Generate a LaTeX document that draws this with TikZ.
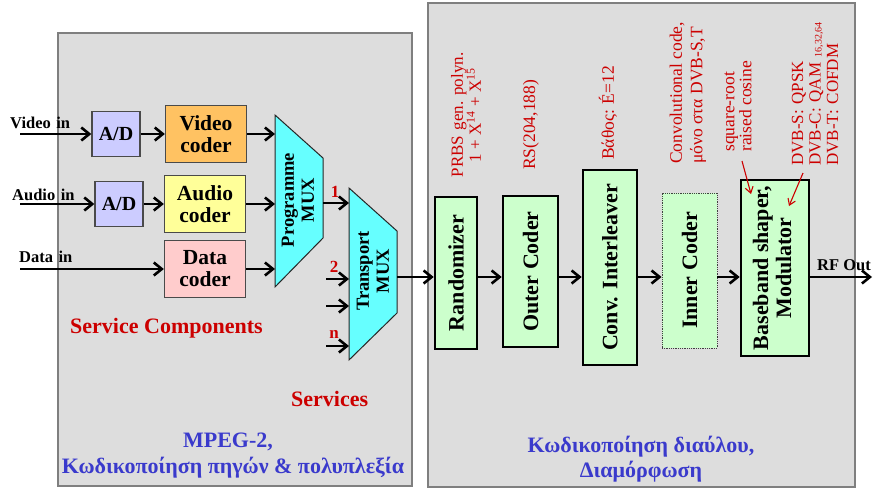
\documentclass[tikz,border=0pt]{standalone}
\usepackage{fontspec}
\usepackage{graphicx}
\setmainfont{Liberation Serif}
\usetikzlibrary{arrows.meta,calc}

\definecolor{panelgray}{HTML}{DDDDDD}
\definecolor{paneledge}{HTML}{7F7F7F}
\definecolor{adblue}{HTML}{CCCCFF}
\definecolor{vidorange}{HTML}{FFC262}
\definecolor{audyellow}{HTML}{FFFF99}
\definecolor{datpink}{HTML}{FFCCCC}
\definecolor{muxcyan}{HTML}{66FFFF}
\definecolor{chaingreen}{HTML}{CCFFCC}
\definecolor{labelred}{HTML}{CC0000}
\definecolor{labelblue}{HTML}{3A3ACC}
\definecolor{boxedge}{HTML}{4A4A4A}

\newcommand{\rot}[1]{\rotatebox{90}{#1}}

\begin{document}
\begin{tikzpicture}[x=1pt,y=-1pt,
  panel/.style={draw=paneledge, fill=panelgray, line width=1.5pt},
  box/.style={draw=boxedge, line width=1.3pt, inner sep=0pt, align=center,
    font=\fontsize{21.5}{22}\selectfont\bfseries},
  adbox/.style={box, fill=adblue, minimum width=48pt, minimum height=45pt,
    font=\fontsize{20}{21}\selectfont\bfseries},
  coder/.style={box, minimum width=81pt, minimum height=57pt},
  chain/.style={draw=black, line width=2.6pt, fill=chaingreen, inner sep=0pt,
    font=\fontsize{22}{23}\selectfont\bfseries},
  muxshape/.style={draw=black!85, line width=1pt, fill=muxcyan},
  muxtext/.style={inner sep=0pt, align=center, rotate=90,
    font=\fontsize{18.5}{20}\selectfont\bfseries},
  arr/.style={line width=2.6pt, -{Straight Barb[length=8pt,width=13pt]}},
  redarr/.style={draw=labelred, line width=1.1pt, -{Straight Barb[length=6pt,width=8pt]}},
  inlbl/.style={inner sep=0pt, anchor=base west, font=\fontsize{16.5}{18}\selectfont\bfseries},
  redlbl/.style={text=labelred, inner sep=0pt, rotate=90, font=\fontsize{17.5}{18}\selectfont},
  redbold/.style={text=labelred, inner sep=0pt, font=\fontsize{17}{18}\selectfont\bfseries},
  bluelbl/.style={text=labelblue, inner sep=0pt, anchor=base, font=\fontsize{22}{24}\selectfont\bfseries}
]
\useasboundingbox (0,0) rectangle (873,488);
\fill[white] (0,0) rectangle (873,488);

% the two panels
\draw[panel] (58,33) rectangle (412,486);
\draw[panel] (428,3) rectangle (855,487);

% ---------- source coding and multiplexing ----------
\node[adbox] (adv) at (116,134) {A/D};
\node[adbox] (ada) at (119,204) {A/D};
\node[coder, fill=vidorange] (vcod) at (206,134) {Video\\coder};
\node[coder, fill=audyellow] (acod) at (205,204) {Audio\\coder};
\node[coder, fill=datpink] (dcod) at (205,269) {Data\\coder};

% input signals
\coordinate (vin) at (20,134);
\coordinate (ain) at (20,204);
\coordinate (din) at (20,269);
\node[inlbl] (vinl) at (10,128) {Video\,\,in};
\node[inlbl] (ainl) at (12,200) {Audio\,\,in};
\node[inlbl] (dinl) at (19,262) {Data\,\,in};
\draw[arr] (vin) -- (adv.west);
\draw[arr] (ain) -- (ada.west);
\draw[arr] (din) -- (dcod.west);
\draw[arr] (adv.east) -- (vcod.west);
\draw[arr] (ada.east) -- (acod.west);

% programme multiplexer
\draw[muxshape] (275,115) -- (323,158) -- (323,238) -- (275,287) -- cycle;
\node[muxtext] (pmux) at (298,200) {Programme\\MUX};
\coordinate (pmL) at (275,0);
\coordinate (pmout) at (323,203);
\draw[arr] (vcod.east) -- (vcod.east -| pmL);
\draw[arr] (acod.east) -- (acod.east -| pmL);
\draw[arr] (dcod.east) -- (dcod.east -| pmL);

% transport multiplexer
\draw[muxshape] (349,188) -- (397,231) -- (397,313) -- (349,360) -- cycle;
\node[muxtext] (tmux) at (373,271) {Transport\\MUX};
\coordinate (tmin1) at (349,203);
\coordinate (tmsrc2) at (326,279);
\coordinate (tmin2) at (349,279);
\coordinate (tmsrc3) at (326,306);
\coordinate (tmin3) at (349,306);
\coordinate (tmsrcn) at (326,346);
\coordinate (tminn) at (349,346);
\coordinate (tmout) at (397,277);
\draw[arr] (pmout) -- (tmin1);
\draw[arr] (tmsrc2) -- (tmin2);
\draw[arr] (tmsrc3) -- (tmin3);
\draw[arr] (tmsrcn) -- (tminn);
\node[redbold, anchor=base] (n1) at (335,197) {1};
\node[redbold, anchor=base] (n2) at (334,272) {2};
\node[redbold, anchor=base] (nn) at (334,338) {n};

\node[redbold, anchor=base west, font=\fontsize{22}{24}\selectfont\bfseries] (svcc) at (70,333) {Service Components};
\node[redbold, anchor=base west, font=\fontsize{22}{24}\selectfont\bfseries] (svcs) at (291,406) {Services};
\node[bluelbl] (mpeg) at (228,447) {MPEG-2,};
\node[bluelbl] (srccod) at (233,473) {Κωδικοποίηση πηγών \& πολυπλεξία};

% ---------- channel coding and modulation ----------
\coordinate (row) at (0,277);
\node[chain, minimum width=42pt, minimum height=152pt] (rand) at (456,273) {\rot{Randomizer}};
\node[chain, minimum width=55pt, minimum height=151pt] (outer) at (530.5,271.5) {\rot{Outer Coder}};
\node[chain, minimum width=54pt, minimum height=195pt] (conv) at (610,267.5) {\rot{Conv. Interleaver}};
\node[chain, draw=black!75, line width=0.8pt, densely dotted, minimum width=55pt, minimum height=155pt] (inner) at (689.5,270.5) {\rot{Inner Coder}};
\node[chain, minimum width=68pt, minimum height=176pt] (bb) at (775,268) {\rot{\begin{tabular}{@{}c@{}}Baseband shaper,\\Modulator\end{tabular}}};

\coordinate (rfend) at (872,277);
\draw[arr] (tmout) -- (rand.west |- row);
\draw[arr] (rand.east |- row) -- (outer.west |- row);
\draw[arr] (outer.east |- row) -- (conv.west |- row);
\draw[arr] (conv.east |- row) -- (inner.west |- row);
\draw[arr] (inner.east |- row) -- (bb.west |- row);
\draw[arr] (bb.east |- row) -- (rfend);
\node[inlbl, font=\fontsize{16.5}{18}\selectfont\bfseries] (rfl) at (817,270) {RF Out};

% annotations above the chain
\node[redlbl, align=center, font=\fontsize{17}{18}\selectfont] (prbs) at (466,115)
  {PRBS\,\,gen.\,\,polyn.\\1 + X\textsuperscript{14} + X\textsuperscript{15}};
\node[redlbl, anchor=west] (rsl) at (531,170) {RS(204,188)};
\node[redlbl, anchor=west] (depth) at (608,160) {Βάθος: É=12};
\node[redlbl, anchor=west, align=left, font=\fontsize{17.5}{20.5}\selectfont] (convl) at (688,164)
  {Convolutional code,\\μόνο στα DVB-S,T};
\node[redlbl, anchor=west, align=left, font=\fontsize{17.5}{15.5}\selectfont] (srrc) at (738,152)
  {square-root\\raised cosine};
\node[redlbl, anchor=west, align=left, font=\fontsize{17}{17.5}\selectfont] (modl) at (815,166)
  {DVB-S:\,\,QPSK\\DVB-C:\,\,QAM\,\,\raisebox{-1pt}{\fontsize{10}{10}\selectfont 16,32,64}\\DVB-T:\,\,COFDM};
\coordinate (a1s) at (742,161);
\coordinate (a1e) at (751,194);
\coordinate (a2s) at (803,173);
\coordinate (a2e) at (789,206);
\draw[redarr] (a1s) -- (a1e);
\draw[redarr] (a2s) -- (a2e);

\node[bluelbl] (chcod) at (641,452) {Κωδικοποίηση διαύλου,};
\node[bluelbl] (modul) at (641,477) {Διαμόρφωση};
\end{tikzpicture}
\end{document}
